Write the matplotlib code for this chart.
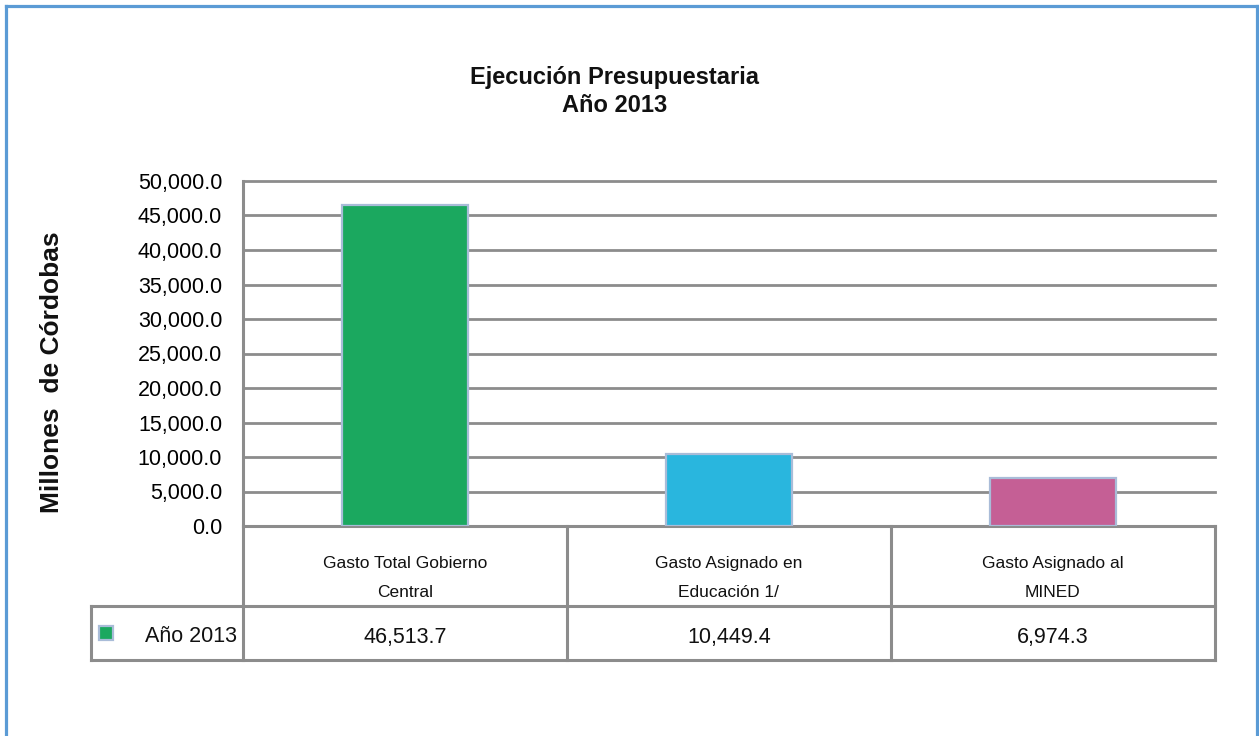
import matplotlib
matplotlib.use("Agg")
import matplotlib.pyplot as plt
from matplotlib.lines import Line2D
from matplotlib.transforms import blended_transform_factory

plt.rcParams['font.family'] = ['Liberation Sans', 'DejaVu Sans']

# ---- data ----
categories = ["Gasto Total Gobierno\nCentral",
              "Gasto Asignado en\nEducación 1/",
              "Gasto Asignado al\nMINED"]
values = [46513.7, 10449.4, 6974.3]
value_labels = ["46,513.7", "10,449.4", "6,974.3"]
series_name = "Año 2013"
bar_colors = ["#1BA85F", "#29B6DE", "#C55F95"]
yticks = [0, 5000, 10000, 15000, 20000, 25000, 30000, 35000, 40000, 45000, 50000]
title = "Ejecución Presupuestaria\nAño 2013"
ylabel = "Millones  de Córdobas"

W, H = 1259, 736
fig = plt.figure(figsize=(W / 100, H / 100), dpi=100)
fig.patch.set_facecolor("white")

grid_c = "#8C8C8C"
ax = fig.add_axes([243 / W, 1 - 526 / H, 972 / W, 345 / H])
x = list(range(len(categories)))
ax.bar(x, values, width=0.39, color=bar_colors, edgecolor="#A9BCD8",
       linewidth=1.6, zorder=3)
ax.set_xlim(-0.5, len(categories) - 0.5)
ax.set_ylim(0, 50000)
ax.set_yticks(yticks)
ax.set_yticklabels([f"{v:,.1f}" for v in yticks], fontsize=15.5)
ax.tick_params(axis="y", length=0, pad=15)
ax.set_xticks([])
ax.yaxis.grid(True, color=grid_c, linewidth=2.0, zorder=0)
for g in ax.yaxis.get_gridlines():
    g.set_clip_on(False)
ax.set_axisbelow(True)
for s in ("top", "right"):
    ax.spines[s].set_visible(False)
for s in ("left", "bottom"):
    ax.spines[s].set_color(grid_c)
    ax.spines[s].set_linewidth(2.2)

# ---- data table under axis ----
bt = blended_transform_factory(ax.transData, ax.transAxes)
y_hdr = -80 / 345
y_bot = -134 / 345
lw = 2.2
ax.add_line(Line2D([-0.5, len(categories) - 0.5], [y_hdr, y_hdr], transform=bt,
                   color=grid_c, lw=lw, clip_on=False))
ax.add_line(Line2D([-152 / 972, 0], [y_hdr, y_hdr], transform=ax.transAxes,
                   color=grid_c, lw=lw, clip_on=False))
ax.add_line(Line2D([-152 / 972, 1], [y_bot, y_bot], transform=ax.transAxes,
                   color=grid_c, lw=lw, clip_on=False))
ax.add_line(Line2D([-152 / 972, -152 / 972], [y_hdr, y_bot], transform=ax.transAxes,
                   color=grid_c, lw=lw, clip_on=False))
for b in [i - 0.5 for i in range(len(categories) + 1)]:
    ax.add_line(Line2D([b, b], [0, y_bot], transform=bt,
                       color=grid_c, lw=lw, clip_on=False))

for i, (cat, vl) in enumerate(zip(categories, value_labels)):
    ax.text(i, -52 / 345, cat, transform=bt, ha="center", va="center",
            fontsize=12.5, linespacing=2.15, color="#111111")
    ax.text(i, -112 / 345, vl, transform=bt, ha="center", va="center",
            fontsize=15.5, color="#111111")

ax.text(-6 / 972, -110 / 345, series_name, transform=ax.transAxes,
        ha="right", va="center", fontsize=15.5, color="#111111")
ax.plot([-137.5 / 972], [-106.5 / 345], marker="s", markersize=10.5,
        markerfacecolor=bar_colors[0], markeredgecolor="#A9BCD8",
        markeredgewidth=1.6, transform=ax.transAxes, clip_on=False)

# ---- titles ----
fig.text(615 / W, 1 - 91.5 / H, title, ha="center", va="center",
         fontsize=17, fontweight="bold", linespacing=1.28, color="#111111")
fig.text(52 / W, 1 - 372 / H, ylabel, ha="center", va="center",
         rotation=90, fontsize=19, fontweight="bold", color="#111111")

# ---- outer border (left, top, right) ----
bc = "#5B9BD5"
fig.add_artist(Line2D([5.5 / W, 5.5 / W], [0, 1 - 5.5 / H], color=bc, lw=2.3,
                      transform=fig.transFigure))
fig.add_artist(Line2D([5.5 / W, 1256.5 / W], [1 - 5.5 / H, 1 - 5.5 / H], color=bc,
                      lw=2.3, transform=fig.transFigure))
fig.add_artist(Line2D([1256.5 / W, 1256.5 / W], [0, 1 - 5.5 / H], color=bc, lw=2.3,
                      transform=fig.transFigure))

fig.savefig("out.png", dpi=100, facecolor="white")
